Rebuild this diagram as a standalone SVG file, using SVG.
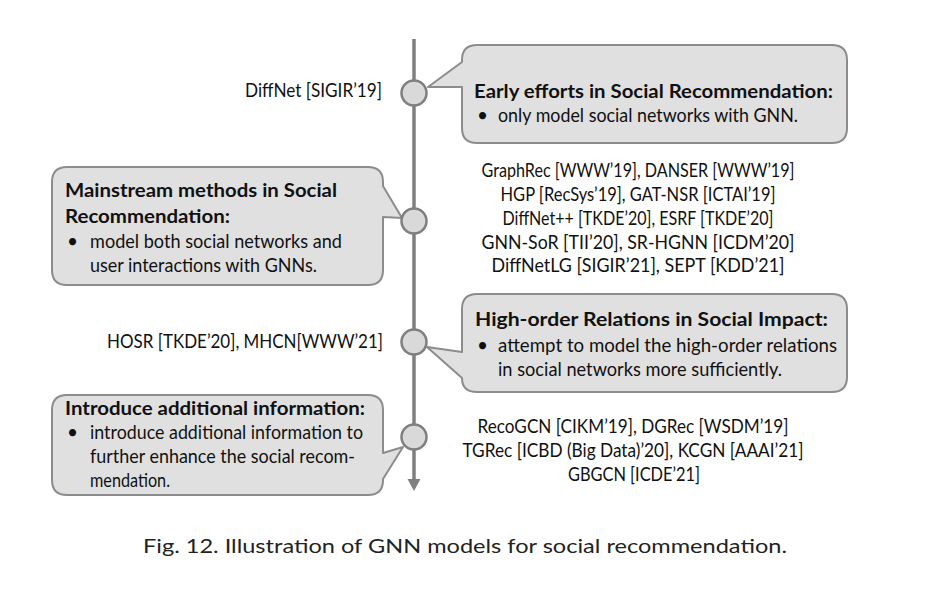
<svg xmlns="http://www.w3.org/2000/svg" width="929" height="589" viewBox="0 0 929 589">
<style>
.bg{fill:#ffffff}
.call{fill:#e0e0e0;stroke:#8c8c8c;stroke-width:2;stroke-linejoin:round}
.dot{fill:#d9d9d9;stroke:#7f7f7f;stroke-width:2.5}
.axis{stroke:#7f7f7f;stroke-width:3.5;fill:none}
.head{fill:#7f7f7f}
text{font-family:Lato,"Open Sans","Liberation Sans",sans-serif;font-size:19px;fill:#111111}
.b{font-weight:bold}
.mid{text-anchor:middle}
.cap{font-size:20px;fill:#222222}
</style>
<rect class="bg" x="0" y="0" width="929" height="589"/>
<g id="connectors">
<line class="axis" x1="414" y1="39" x2="414" y2="481"/>
<polygon class="head" points="407.5,479 420.5,479 414,491"/>
</g>
<g id="callout-early">
<path class="call" d="M477,45 H832 Q847,45 847,60 V128 Q847,143 832,143 H477 Q462,143 462,128 V87 L428,87 L462,62 V60 Q462,45 477,45 Z"/>
<text class="b" x="474" y="98" textLength="359" lengthAdjust="spacingAndGlyphs">Early efforts in Social Recommendation:</text>
<text x="477" y="122">•</text>
<text x="498" y="122" textLength="300" lengthAdjust="spacingAndGlyphs">only model social networks with GNN.</text>
</g>
<g id="callout-mainstream">
<path class="call" d="M67,167 H368 Q383,167 383,182 V186 L402,218 L383,217 V270 Q383,285 368,285 H67 Q52,285 52,270 V182 Q52,167 67,167 Z"/>
<text class="b" x="65" y="197" textLength="272" lengthAdjust="spacingAndGlyphs">Mainstream methods in Social</text>
<text class="b" x="65" y="223" textLength="165" lengthAdjust="spacingAndGlyphs">Recommendation:</text>
<text x="67" y="248">•</text>
<text x="90" y="248" textLength="252" lengthAdjust="spacingAndGlyphs">model both social networks and</text>
<text x="90" y="272" textLength="227" lengthAdjust="spacingAndGlyphs">user interactions with GNNs.</text>
</g>
<g id="callout-highorder">
<path class="call" d="M477,294 H832 Q847,294 847,309 V377 Q847,392 832,392 H477 Q462,392 462,378 L427,347 L462,352 V309 Q462,294 477,294 Z"/>
<text class="b" x="475" y="326" textLength="353" lengthAdjust="spacingAndGlyphs">High-order Relations in Social Impact:</text>
<text x="477" y="352">•</text>
<text x="498" y="352" textLength="339" lengthAdjust="spacingAndGlyphs">attempt to model the high-order relations</text>
<text x="498" y="376" textLength="284" lengthAdjust="spacingAndGlyphs">in social networks more sufficiently.</text>
</g>
<g id="callout-additional">
<path class="call" d="M67,395 H368 Q383,395 383,410 V453 L403,447 L383,479 V480 Q383,495 368,495 H67 Q52,495 52,480 V410 Q52,395 67,395 Z"/>
<text class="b" x="65" y="415" textLength="300" lengthAdjust="spacingAndGlyphs">Introduce additional information:</text>
<text x="67" y="439">•</text>
<text x="90" y="439" textLength="273" lengthAdjust="spacingAndGlyphs">introduce additional information to</text>
<text x="90" y="463" textLength="265" lengthAdjust="spacingAndGlyphs">further enhance the social recom-</text>
<text x="90" y="487" textLength="80" lengthAdjust="spacingAndGlyphs">mendation.</text>
</g>
<g id="node-1">
<circle class="dot" cx="414" cy="93" r="12.5"/>
<text x="245" y="97" textLength="137" lengthAdjust="spacingAndGlyphs">DiffNet [SIGIR’19]</text>
</g>
<g id="node-2">
<circle class="dot" cx="414" cy="221" r="12.5"/>
<text class="mid" x="638" y="177" textLength="313" lengthAdjust="spacingAndGlyphs">GraphRec [WWW’19], DANSER [WWW’19]</text>
<text class="mid" x="638" y="201" textLength="275" lengthAdjust="spacingAndGlyphs">HGP [RecSys’19], GAT-NSR [ICTAI’19]</text>
<text class="mid" x="638" y="225" textLength="271" lengthAdjust="spacingAndGlyphs">DiffNet++ [TKDE’20], ESRF [TKDE’20]</text>
<text class="mid" x="638" y="249" textLength="313" lengthAdjust="spacingAndGlyphs">GNN-SoR [TII’20], SR-HGNN [ICDM’20]</text>
<text class="mid" x="638" y="272" textLength="293" lengthAdjust="spacingAndGlyphs">DiffNetLG [SIGIR’21], SEPT [KDD’21]</text>
</g>
<g id="node-3">
<circle class="dot" cx="414" cy="342" r="12.5"/>
<text x="107" y="348" textLength="276" lengthAdjust="spacingAndGlyphs">HOSR [TKDE’20], MHCN[WWW’21]</text>
</g>
<g id="node-4">
<circle class="dot" cx="414" cy="437" r="12.5"/>
<text class="mid" x="633" y="433" textLength="311" lengthAdjust="spacingAndGlyphs">RecoGCN [CIKM’19], DGRec [WSDM’19]</text>
<text class="mid" x="633" y="457" textLength="341" lengthAdjust="spacingAndGlyphs">TGRec [ICBD (Big Data)’20], KCGN [AAAI’21]</text>
<text class="mid" x="634" y="481" textLength="132" lengthAdjust="spacingAndGlyphs">GBGCN [ICDE’21]</text>
</g>
<text class="cap" x="143" y="553" textLength="644" lengthAdjust="spacingAndGlyphs">Fig. 12.  Illustration of GNN models for social recommendation.</text>
</svg>
